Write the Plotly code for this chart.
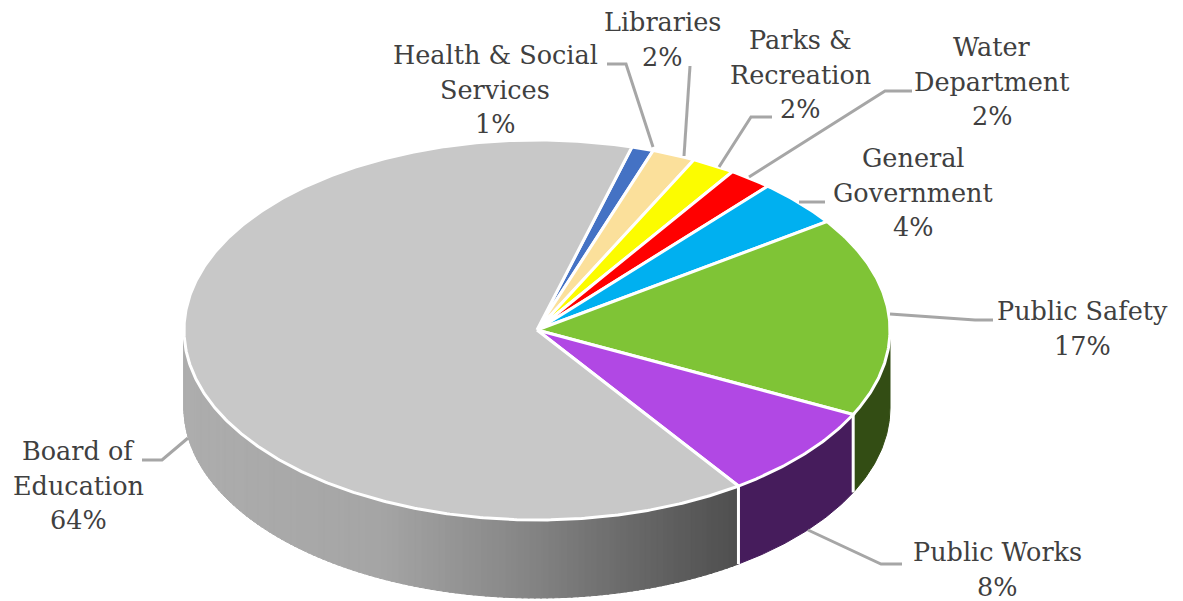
import math
import plotly.graph_objects as go

# Budget shares, clockwise from the top of the pie
categories = ["Health & Social Services", "Libraries", "Parks & Recreation", "Water Department",
              "General Government", "Public Safety", "Public Works", "Board of Education"]
shares = [1, 2, 2, 2, 4, 17, 8, 64]
top_colors = ["#4472c4", "#fbe09b", "#fcfc00", "#ff0000", "#00b0f0", "#7fc436", "#b148e4", "#c8c8c8"]
wall_colors = ["#2a4679", "#9b8a5f", "#9c9c00", "#9e0000", "#006d94", "#334d14", "#461c5c", None]

label_lines = [["Health & Social", "Services"], ["Libraries"], ["Parks &", "Recreation"], ["Water", "Department"],
               ["General", "Government"], ["Public Safety"], ["Public Works"], ["Board of", "Education"]]
label_x = [495, 662, 800, 992, 913, 1082, 997, 78]
label_first_y = [55, 22, 40, 47, 158, 311, 552, 451]

leaders = [
    ([607, 626, 653], [64, 64, 147]),
    ([690, 684], [66, 156]),
    ([772, 751, 719], [117, 117, 167]),
    ([912, 885, 749], [91, 91, 177]),
    ([825, 799], [202, 202]),
    ([890, 975, 993], [314, 320, 320]),
    ([808, 881, 902], [530, 564, 564]),
    ([142, 162, 188], [460, 460, 438]),
]

# Pie geometry in page pixels
CX, CY, RX, RY, DEPTH = 537, 330, 353, 190, 78
START_DEG = 74.4
FONT = "DejaVu Serif"
TEXT_COLOR = "#404040"
LINE_PITCH = 34.7


def rim(deg):
    a = math.radians(deg)
    return CX + RX * math.cos(a), CY - RY * math.sin(a)


def arc(d0, d1, step=0.5):
    n = max(2, int(abs(d1 - d0) / step) + 1)
    return [rim(d0 + (d1 - d0) * i / (n - 1)) for i in range(n)]


def shade(x):
    # Grey ramp of the large wall, lit from the left
    f = max(0.0, min(1.0, (x - 184) / (741 - 184)))
    stops = [(0.0, 173), (0.35, 165), (0.6, 135), (0.85, 98), (1.0, 78)]
    for (f0, g0), (f1, g1) in zip(stops, stops[1:]):
        if f <= f1:
            g = round(g0 + (g1 - g0) * (f - f0) / (f1 - f0))
            return f"rgb({g},{g},{g})"
    return "rgb(78,78,78)"


fig = go.Figure()


def polygon(points, fill, line=None, width=1):
    xs = [p[0] for p in points] + [points[0][0]]
    ys = [p[1] for p in points] + [points[0][1]]
    fig.add_trace(go.Scatter(x=xs, y=ys, mode="lines", fill="toself", fillcolor=fill,
                             line=dict(color=line or fill, width=width), hoverinfo="skip", showlegend=False))


def wall(d0, d1, color):
    top = arc(d0, d1)
    polygon(top + [(x, y + DEPTH) for x, y in reversed(top)], color)


# Slice boundaries, walking clockwise
bounds = [START_DEG]
for s in shares:
    bounds.append(bounds[-1] - s * 3.6)

# Outer walls: only the front half of the rim is visible
wall_end = -180
d = bounds[7]
while d > wall_end:
    nxt = max(d - 1.0, wall_end)
    wall(d, nxt - 0.3 if nxt > wall_end else nxt, shade(rim((d + nxt) / 2)[0]))
    d = nxt
wall(bounds[6], bounds[7], wall_colors[6])
wall(0, bounds[6], wall_colors[5])

# White seams between wall panels
for deg in (bounds[7], bounds[6]):
    x, y = rim(deg)
    fig.add_trace(go.Scatter(x=[x, x], y=[y, y + DEPTH], mode="lines", line=dict(color="white", width=3),
                             hoverinfo="skip", showlegend=False))

# Top face
for i, s in enumerate(shares):
    polygon([(CX, CY)] + arc(bounds[i], bounds[i + 1]), top_colors[i], "white", 3)

# Leader lines
for xs, ys in leaders:
    fig.add_trace(go.Scatter(x=xs, y=ys, mode="lines", line=dict(color="#a6a6a6", width=3),
                             hoverinfo="skip", showlegend=False))

# Labels, one annotation per text line so the pitch stays fixed
for i, lines in enumerate(label_lines):
    for j, text in enumerate(lines + [f"{shares[i]}%"]):
        fig.add_annotation(x=label_x[i], y=label_first_y[i] + j * LINE_PITCH, text=text, showarrow=False,
                           xanchor="center", yanchor="middle", borderpad=0,
                           font=dict(family=FONT, size=25.5, color=TEXT_COLOR))

fig.update_layout(
    width=1183, height=601, margin=dict(l=0, r=0, t=0, b=0),
    paper_bgcolor="white", plot_bgcolor="white", showlegend=False,
    xaxis=dict(range=[0, 1183], visible=False, fixedrange=True),
    yaxis=dict(range=[601, 0], visible=False, fixedrange=True),
)
fig.write_html("out.html", config=dict(displayModeBar=False))
